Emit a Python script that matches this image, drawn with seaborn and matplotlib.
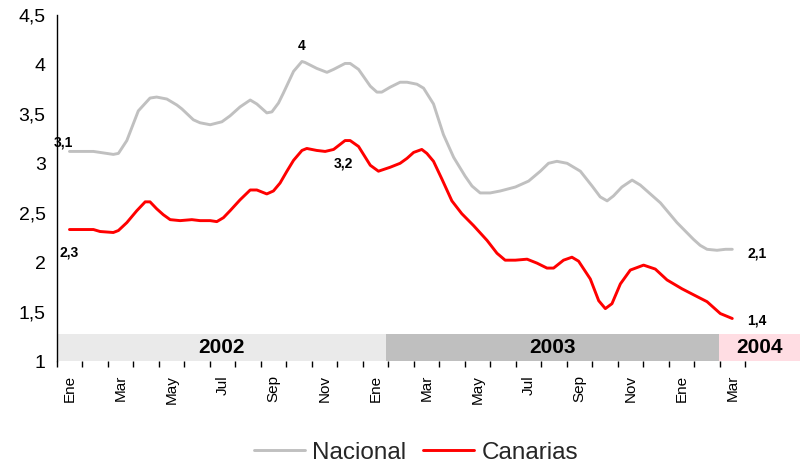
import numpy as np
import pandas as pd
import matplotlib
matplotlib.use("Agg")
import matplotlib.pyplot as plt
import seaborn as sns
from matplotlib.patches import Rectangle

# ---- data (x = months since Jan 2002, category centres) ----
nacional_mes = [0.0, 0.94, 1.72, 1.92, 2.25, 2.70, 3.16, 3.42, 3.82, 4.21, 4.41, 4.86, 5.12, 5.52,
                5.98, 6.30, 6.69, 7.09, 7.35, 7.74, 7.94, 8.20, 8.39, 8.79, 9.12, 9.24, 9.70, 10.10,
                10.36, 10.81, 11.01, 11.34, 11.80, 12.06, 12.25, 12.58, 12.97, 13.24, 13.63, 13.89,
                14.28, 14.67, 15.07, 15.52, 15.79, 16.11, 16.50, 16.90, 17.49, 18.01, 18.47, 18.79,
                19.12, 19.52, 20.04, 20.50, 20.82, 21.09, 21.34, 21.67, 22.07, 22.39, 23.18, 23.83,
                24.48, 24.74, 25.01, 25.40, 25.73, 26.0]
nacional_val = [3.12, 3.12, 3.09, 3.10, 3.23, 3.53, 3.66, 3.67, 3.65, 3.59, 3.55, 3.44, 3.41, 3.39,
                3.42, 3.48, 3.57, 3.64, 3.60, 3.51, 3.52, 3.61, 3.71, 3.93, 4.03, 4.02, 3.96, 3.92,
                3.95, 4.01, 4.01, 3.95, 3.78, 3.72, 3.72, 3.77, 3.82, 3.82, 3.80, 3.76,
                3.60, 3.29, 3.06, 2.87, 2.77, 2.70, 2.70, 2.72, 2.76, 2.82, 2.92, 3.00,
                3.02, 3.00, 2.92, 2.77, 2.66, 2.62, 2.67, 2.76, 2.83, 2.78, 2.60, 2.40,
                2.23, 2.17, 2.13, 2.12, 2.13, 2.13]

canarias_mes = [0.0, 0.94, 1.20, 1.72, 1.92, 2.25, 2.64, 2.97, 3.16, 3.42, 3.68, 3.95, 4.34, 4.80,
                5.12, 5.52, 5.78, 6.04, 6.30, 6.69, 7.09, 7.35, 7.74, 8.00, 8.26, 8.53, 8.79, 9.12,
                9.31, 9.70, 10.03, 10.36, 10.81, 11.01, 11.34, 11.80, 12.12, 12.58, 12.97, 13.24,
                13.50, 13.82, 14.02, 14.28, 14.61, 15.00, 15.39, 15.85, 16.38, 16.77, 17.09, 17.49,
                17.95, 18.34, 18.73, 18.99, 19.38, 19.71, 19.97, 20.43, 20.76, 21.02, 21.28, 21.61,
                22.00, 22.52, 22.98, 23.44, 24.03, 24.48, 25.01, 25.53, 26.0]
canarias_val = [2.33, 2.33, 2.31, 2.30, 2.32, 2.40, 2.52, 2.61, 2.61, 2.54, 2.48, 2.43, 2.42, 2.43,
                2.42, 2.42, 2.41, 2.45, 2.52, 2.63, 2.73, 2.73, 2.69, 2.72, 2.80, 2.92, 3.03, 3.13,
                3.15, 3.13, 3.12, 3.14, 3.23, 3.23, 3.17, 2.98, 2.92, 2.96, 3.00, 3.05,
                3.11, 3.14, 3.10, 3.02, 2.84, 2.62, 2.49, 2.37, 2.22, 2.09, 2.02, 2.02,
                2.03, 1.99, 1.94, 1.94, 2.02, 2.05, 2.01, 1.83, 1.61, 1.53, 1.58, 1.78,
                1.92, 1.97, 1.93, 1.82, 1.73, 1.67, 1.60, 1.48, 1.43]

meses = ["Ene", "Feb", "Mar", "Abr", "May", "Jun", "Jul", "Ago", "Sep", "Oct", "Nov", "Dic"] * 2 + ["Ene", "Feb", "Mar"]
anios = ["2002", "2003", "2004"]
anios_inicio = [-0.5, 12.42, 25.49]
anios_fin = [12.42, 25.49, 28.67]
anios_color = ["#EAEAEA", "#BFBFBF", "#FFDDE3"]
y_ticks = [1, 1.5, 2, 2.5, 3, 3.5, 4, 4.5]

df = pd.concat([
    pd.DataFrame({"mes": nacional_mes, "valor": nacional_val, "serie": "Nacional"}),
    pd.DataFrame({"mes": canarias_mes, "valor": canarias_val, "serie": "Canarias"}),
])

sns.set_theme(style="white")
plt.rcParams["font.family"] = ["Liberation Sans", "DejaVu Sans"]

fig = plt.figure(figsize=(8, 4.66), dpi=100)
ax = fig.add_axes([0.0709, 0.2253, 0.8604, 0.7425])

# year bands
band_top = 1.27
for a, x0, x1, c in zip(anios, anios_inicio, anios_fin, anios_color):
    ax.add_patch(Rectangle((x0, 1.0), x1 - x0, band_top - 1.0, facecolor=c, edgecolor="none",
                           clip_on=False, zorder=1))
    ax.text((x0 + x1) / 2, (1.0 + band_top) / 2, a, ha="center", va="center",
            fontsize=15, fontweight="bold", color="black", zorder=2, clip_on=False)

palette = {"Nacional": "#C0C0C0", "Canarias": "#FF0000"}
sns.lineplot(data=df, x="mes", y="valor", hue="serie", palette=palette, estimator=None,
             sort=False, linewidth=2.1, ax=ax, zorder=3)
for ln in ax.get_lines():
    ln.set_solid_joinstyle("round")
    ln.set_solid_capstyle("round")

ax.set_xlim(-0.5, len(meses) - 0.5)
ax.set_ylim(1, 4.5)
ax.set_xlabel("")
ax.set_ylabel("")

# y axis
ax.set_yticks(y_ticks)
ax.set_yticklabels([("%g" % v).replace(".", ",") for v in y_ticks], fontsize=14)
ax.tick_params(axis="y", direction="inout", length=12, width=1, color="black", pad=2, labelcolor="black")

# x axis: minor ticks at month boundaries, labels every other month
ax.set_xticks(np.arange(-0.5, len(meses), 1.0), minor=True)
lab_pos = list(range(0, len(meses), 2))
ax.set_xticks(lab_pos)
ax.set_xticklabels([meses[i] for i in lab_pos], rotation=90, fontsize=11, va="top", ha="center")
ax.tick_params(axis="x", which="major", length=0, pad=10, labelcolor="black")
ax.tick_params(axis="x", which="minor", direction="out", length=4.5, width=1, color="black", bottom=True)

for s in ["top", "right", "bottom"]:
    ax.spines[s].set_visible(False)
ax.spines["left"].set_color("black")
ax.spines["left"].set_linewidth(1)
ax.spines["left"].set_zorder(4)


def fmt(v):
    s = "%.1f" % round(v, 1)
    if s.endswith(".0"):
        s = s[:-2]
    return s.replace(".", ",")


def annot(xs, ys, idx, dx, dy):
    ax.annotate(fmt(ys[idx]), xy=(xs[idx], ys[idx]), xytext=(dx, dy), textcoords="offset pixels",
                ha="center", va="center", fontsize=10, fontweight="bold", color="black",
                annotation_clip=False, zorder=5)


imax_n = int(np.argmax(nacional_val))
imax_c = int(np.argmax(canarias_val))
annot(nacional_mes, nacional_val, 0, -6, 9)
annot(canarias_mes, canarias_val, 0, 0, -23)
annot(nacional_mes, nacional_val, imax_n, 0, 15)
annot(canarias_mes, canarias_val, imax_c, -2, -23)
annot(nacional_mes, nacional_val, len(nacional_val) - 1, 25, -4)
annot(canarias_mes, canarias_val, len(canarias_val) - 1, 25, -2)

# legend
handles, labels = ax.get_legend_handles_labels()
if ax.get_legend() is not None:
    ax.get_legend().remove()
fig.legend(handles, labels, loc="center", bbox_to_anchor=(0.52, 0.028), ncol=2, frameon=False,
           fontsize=17.5, handlelength=2.1, handletextpad=0.3, columnspacing=0.7)

fig.savefig("out.png", dpi=100)
